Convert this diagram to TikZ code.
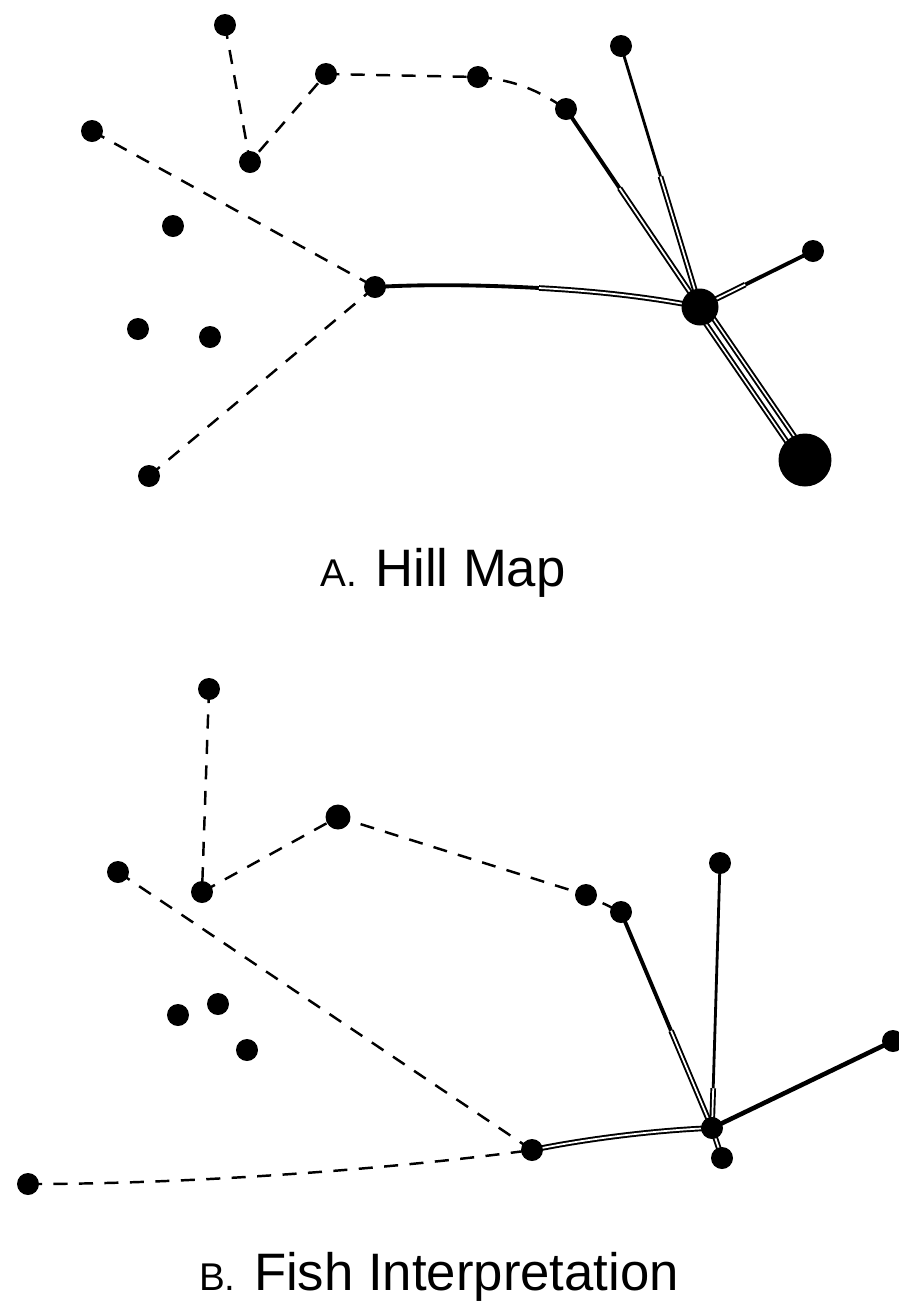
\documentclass[tikz,border=0pt]{standalone}
\usepackage{fontspec}
\setmainfont{Liberation Sans}
\usetikzlibrary{calc,backgrounds}
\tikzset{
  dot/.style={circle,fill,inner sep=0pt,minimum size=0.44cm},
  hubdot/.style={dot,minimum size=0.74cm},
  bigdot/.style={dot,minimum size=1.06cm},
  dashline/.style={line width=1.4pt,dash pattern=on 8pt off 6.5pt},
  dbl/.style={double,double distance=1pt,line width=1.1pt},
  thickline/.style={line width=2.2pt},
  quad/.style={line width=8.4pt,postaction={draw=white,line width=6.2pt},
    postaction={draw=black,line width=4.2pt},postaction={draw=white,line width=2pt}},
  caption/.style={font=\fontsize{30}{30}\selectfont,anchor=base}
}
\begin{document}
\begin{tikzpicture}[x=0.02cm,y=-0.02cm]
  \useasboundingbox (0,0) rectangle (899,1303);
  % A. Hill Map
  \node[dot] (a1) at (225,25) {};
  \node[dot] (a2) at (250,162) {};
  \node[dot] (a3) at (326,74) {};
  \node[dot] (a4) at (478,77) {};
  \node[dot] (a5) at (566,109) {};
  \node[dot] (a6) at (621,46) {};
  \node[dot] (a7) at (92,131) {};
  \node[dot] (a8) at (173,226) {};
  \node[dot] (a9) at (375,287) {};
  \node[dot] (a10) at (813,251) {};
  \node[dot] (a11) at (138,329) {};
  \node[dot] (a12) at (210,337) {};
  \node[dot] (a13) at (149,476) {};
  \node[hubdot] (hub) at (700,307) {};
  \node[bigdot] (big) at (805,460) {};
  \node[caption] (capA) at (443,586) {{\fontsize{22}{22}\selectfont A.}\hspace{0.35em}Hill Map};
  \begin{scope}[on background layer]
    \draw[dashline] (a1.center) -- (a2.center) -- (a3.center) -- (a4.center);
    \draw[dashline] (a4.center) .. controls (520,80) and (545,95) .. (a5.center);
    \draw[dashline] (a7.center) -- (a9.center);
    \draw[dashline] (a13.center) -- (a9.center);
    \coordinate (am) at (539,288);
    \draw[thickline] (a9.center) .. controls (427,284) and (484,285) .. (am);
    \draw[dbl] (am) .. controls (595,291) and (650,297) .. (hub.center);
    \draw[thickline] (a5.center) -- ($(a5)!0.4!(hub)$);
    \draw[dbl] ($(a5)!0.4!(hub)$) -- (hub.center);
    \draw[line width=1.6pt] (a6.center) -- ($(a6)!0.5!(hub)$);
    \draw[dbl] ($(a6)!0.5!(hub)$) -- (hub.center);
    \draw[thickline] (a10.center) -- ($(a10)!0.6!(hub)$);
    \draw[dbl] ($(a10)!0.6!(hub)$) -- (hub.center);
    \draw[quad] (hub.center) -- (big.center);
  \end{scope}
  % B. Fish Interpretation
  \node[dot] (b1) at (209,689) {};
  \node[dot] (b2) at (202,892) {};
  \node[dot,minimum width=0.5cm] (b3) at (338,817) {};
  \node[dot] (b4) at (586,895) {};
  \node[dot] (b5) at (621,912) {};
  \node[dot] (b6) at (118,872) {};
  \node[dot] (b7) at (720,863) {};
  \node[dot] (b8) at (893,1041) {};
  \node[dot] (b9) at (722,1158) {};
  \node[dot] (b10) at (532,1150) {};
  \node[dot] (b11) at (28,1184) {};
  \node[dot] (b12) at (178,1015) {};
  \node[dot] (b13) at (218,1004) {};
  \node[dot] (b14) at (247,1050) {};
  \node[dot] (hubb) at (712,1128) {};
  \node[caption] (capB) at (439,1290) {{\fontsize{22}{22}\selectfont B.}\hspace{0.35em}Fish Interpretation};
  \begin{scope}[on background layer]
    \draw[dashline] (b1.center) -- (b2.center) -- (b3.center) -- (b4.center) -- (b5.center);
    \draw[dashline] (b6.center) -- (b10.center);
    \draw[dashline] (b11.center) .. controls (200,1184) and (400,1168) .. (b10.center);
    \draw[dbl] (b10.center) .. controls (590,1138) and (660,1130) .. (hubb.center);
    \draw[thickline] (b5.center) -- ($(b5)!0.55!(hubb)$);
    \draw[dbl] ($(b5)!0.55!(hubb)$) -- (hubb.center);
    \draw[line width=1.6pt] (b7.center) -- ($(b7)!0.85!(hubb)$);
    \draw[dbl] ($(b7)!0.85!(hubb)$) -- (hubb.center);
    \draw[line width=2.6pt] (b8.center) -- (hubb.center);
    \draw[dbl] (hubb.center) -- (b9.center);
  \end{scope}
\end{tikzpicture}
\end{document}
